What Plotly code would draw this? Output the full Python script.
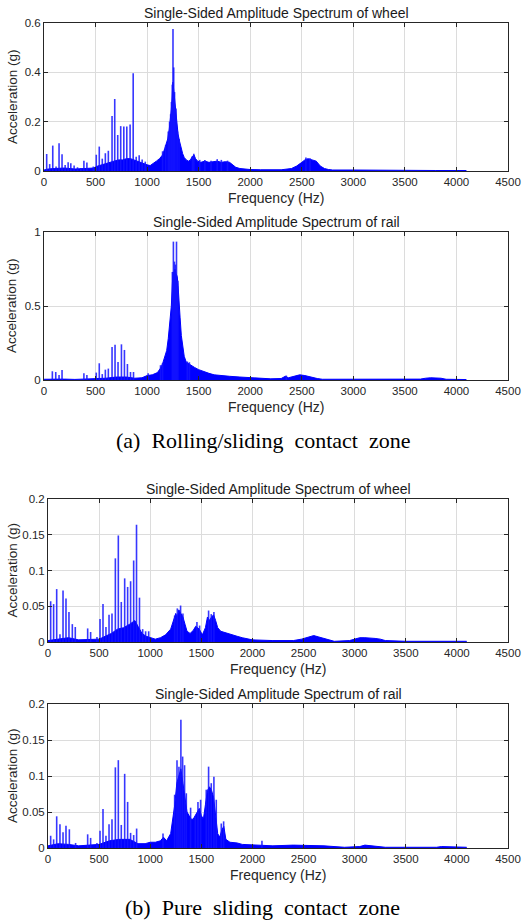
import plotly.graph_objects as go

# ---------------------------------------------------------------
# Single-sided amplitude spectra (acceleration, g) of wheel and rail
# (a) rolling/sliding contact zone, (b) pure sliding contact zone
# Each spectrum = dense broadband floor (env) + discrete harmonic lines (spk)
# ---------------------------------------------------------------

# (a) wheel
a_wheel_env_hz = [0, 40, 100, 200, 300, 400, 480, 520, 560, 600, 640, 680, 720, 760, 800, 840, 870,
                  900, 940, 980, 1000, 1030, 1060, 1090, 1120, 1150, 1170, 1185, 1200, 1215, 1225,
                  1235, 1243, 1250, 1258, 1265, 1272, 1280, 1290, 1300, 1315, 1330, 1345, 1360, 1380,
                  1400, 1420, 1440, 1455, 1470, 1490, 1520, 1560, 1600, 1640, 1680, 1720, 1760, 1800,
                  1830, 1860, 1900, 1950, 2000, 2100, 2200, 2300, 2400, 2450, 2500, 2530, 2560, 2600,
                  2640, 2680, 2720, 2760, 2800, 3000, 3200, 3500, 3800, 4096]
a_wheel_env_amp = [0.004, 0.008, 0.010, 0.012, 0.008, 0.010, 0.012, 0.020, 0.025, 0.030, 0.035, 0.040,
                   0.045, 0.045, 0.050, 0.050, 0.045, 0.040, 0.035, 0.030, 0.025, 0.022, 0.030, 0.040,
                   0.050, 0.065, 0.090, 0.110, 0.130, 0.170, 0.200, 0.250, 0.300, 0.360, 0.330, 0.300,
                   0.260, 0.220, 0.180, 0.150, 0.120, 0.090, 0.070, 0.055, 0.045, 0.040, 0.045, 0.060,
                   0.065, 0.050, 0.040, 0.035, 0.040, 0.035, 0.038, 0.040, 0.035, 0.038, 0.035, 0.025,
                   0.015, 0.010, 0.008, 0.006, 0.005, 0.004, 0.005, 0.010, 0.020, 0.035, 0.045, 0.050,
                   0.045, 0.040, 0.020, 0.010, 0.006, 0.004, 0.004, 0.003, 0.003, 0.002, 0.002]
a_wheel_spk_hz = [26, 55, 85, 117, 146, 175, 205, 234, 260, 292, 325, 357, 387, 416, 478, 507, 536, 565,
                  595, 624, 660, 686, 715, 744, 774, 803, 835, 865, 894, 923, 952, 982,
                  1150, 1180, 1205, 1218, 1228, 1236, 1244, 1251, 1258, 1266, 1280, 1295, 1310,
                  1440, 1453, 1510, 1560, 1620, 1680, 1720, 1780, 2540, 2580]
a_wheel_spk_amp = [0.069, 0.028, 0.103, 0.018, 0.112, 0.068, 0.024, 0.035, 0.031, 0.022, 0.015, 0.012,
                   0.042, 0.034, 0.018, 0.066, 0.099, 0.050, 0.072, 0.082, 0.223, 0.292, 0.146, 0.182,
                   0.180, 0.180, 0.189, 0.396, 0.058, 0.064, 0.047, 0.038,
                   0.080, 0.105, 0.160, 0.200, 0.230, 0.280, 0.350, 0.576, 0.420, 0.320, 0.253, 0.160,
                   0.130,
                   0.060, 0.070, 0.045, 0.045, 0.042, 0.048, 0.045, 0.042, 0.055, 0.052]

# (a) rail
a_rail_env_hz = [0, 100, 200, 300, 400, 500, 600, 700, 800, 880, 950, 1000, 1050, 1100, 1130, 1150,
                 1170, 1190, 1205, 1220, 1235, 1245, 1252, 1260, 1270, 1280, 1292, 1300, 1310, 1320,
                 1332, 1345, 1360, 1380, 1400, 1430, 1460, 1500, 1550, 1600, 1650, 1700, 1800, 1900,
                 2000, 2100, 2200, 2300, 2340, 2370, 2420, 2480, 2530, 2580, 2650, 2700, 3000, 3500,
                 3650, 3700, 3750, 3850, 3900, 4096]
a_rail_env_amp = [0.005, 0.008, 0.006, 0.004, 0.006, 0.008, 0.012, 0.020, 0.020, 0.012, 0.015, 0.030,
                  0.035, 0.050, 0.080, 0.110, 0.150, 0.200, 0.280, 0.380, 0.500, 0.650, 0.730, 0.720,
                  0.750, 0.720, 0.700, 0.640, 0.500, 0.420, 0.300, 0.220, 0.160, 0.120, 0.110, 0.100,
                  0.085, 0.070, 0.055, 0.045, 0.035, 0.030, 0.025, 0.020, 0.015, 0.010, 0.008, 0.010,
                  0.025, 0.015, 0.025, 0.035, 0.030, 0.020, 0.010, 0.005, 0.004, 0.004, 0.006, 0.012,
                  0.015, 0.012, 0.005, 0.003]
a_rail_spk_hz = [81, 114, 146, 175, 387, 416, 507, 536, 565, 595, 624, 660, 689, 718, 751, 780, 809,
                 839, 868, 1010, 1130, 1150, 1245, 1255, 1265, 1275, 1285, 1298, 1390, 1410, 2350]
a_rail_spk_amp = [0.059, 0.054, 0.034, 0.068, 0.045, 0.034, 0.050, 0.113, 0.040, 0.070, 0.077, 0.223,
                  0.239, 0.122, 0.241, 0.203, 0.108, 0.054, 0.054, 0.045, 0.100, 0.115, 0.730, 0.935,
                  0.800, 0.780, 0.935, 0.670, 0.125, 0.120, 0.030]

# (b) wheel
b_wheel_env_hz = [0, 100, 200, 300, 400, 500, 560, 620, 680, 740, 800, 850, 880, 920, 960, 1000, 1050,
                  1100, 1150, 1200, 1230, 1250, 1265, 1280, 1300, 1320, 1340, 1360, 1390, 1420, 1445,
                  1460, 1480, 1510, 1540, 1560, 1580, 1600, 1620, 1640, 1660, 1690, 1750, 1800, 1850,
                  1900, 1950, 2000, 2200, 2400, 2480, 2550, 2600, 2650, 2720, 2800, 2950, 3000, 3050,
                  3100, 3150, 3200, 3250, 3300, 3500, 4096]
b_wheel_env_amp = [0.002, 0.004, 0.006, 0.003, 0.003, 0.004, 0.008, 0.012, 0.018, 0.020, 0.025, 0.030,
                   0.022, 0.012, 0.008, 0.006, 0.004, 0.006, 0.010, 0.018, 0.030, 0.040, 0.035, 0.045,
                   0.040, 0.035, 0.025, 0.015, 0.012, 0.016, 0.022, 0.020, 0.018, 0.010, 0.020, 0.035,
                   0.030, 0.035, 0.038, 0.030, 0.020, 0.015, 0.012, 0.010, 0.008, 0.006, 0.004, 0.003,
                   0.002, 0.002, 0.004, 0.007, 0.009, 0.007, 0.004, 0.001, 0.002, 0.004, 0.006, 0.006,
                   0.006, 0.005, 0.004, 0.002, 0.001, 0.001]
b_wheel_spk_hz = [26, 55, 85, 117, 147, 176, 205, 238, 267, 388, 417, 479, 509, 538, 567, 597, 626,
                  659, 688, 717, 750, 779, 808, 838, 866, 895, 926, 955, 985,
                  1239, 1265, 1297, 1320, 1457, 1483, 1571, 1597, 1623]
b_wheel_spk_amp = [0.057, 0.053, 0.074, 0.011, 0.072, 0.061, 0.042, 0.025, 0.021, 0.019, 0.014, 0.007,
                   0.032, 0.053, 0.021, 0.038, 0.040, 0.117, 0.149, 0.056, 0.089, 0.077, 0.085, 0.114,
                   0.164, 0.062, 0.018, 0.015, 0.015,
                   0.037, 0.047, 0.051, 0.040, 0.028, 0.023, 0.044, 0.039, 0.042]

# (b) rail
b_rail_env_hz = [0, 100, 200, 300, 400, 500, 600, 700, 800, 880, 950, 1000, 1050, 1100, 1130, 1160,
                 1200, 1220, 1240, 1260, 1280, 1300, 1320, 1340, 1360, 1380, 1400, 1420, 1440, 1460,
                 1480, 1500, 1520, 1540, 1560, 1580, 1600, 1620, 1640, 1660, 1680, 1700, 1720, 1740,
                 1780, 1850, 1900, 2000, 2200, 2400, 2550, 2700, 2900, 3050, 3100, 3150, 3300, 3800,
                 3850, 4096]
b_rail_env_amp = [0.003, 0.006, 0.005, 0.003, 0.004, 0.005, 0.010, 0.012, 0.012, 0.006, 0.006, 0.008,
                  0.008, 0.010, 0.015, 0.010, 0.020, 0.040, 0.060, 0.090, 0.100, 0.110, 0.090, 0.070,
                  0.050, 0.045, 0.040, 0.040, 0.045, 0.050, 0.055, 0.045, 0.040, 0.060, 0.080, 0.085,
                  0.080, 0.070, 0.045, 0.020, 0.015, 0.025, 0.030, 0.012, 0.008, 0.007, 0.005, 0.004,
                  0.003, 0.004, 0.004, 0.003, 0.001, 0.002, 0.004, 0.003, 0.001, 0.001, 0.002, 0.001]
b_rail_spk_hz = [26, 55, 85, 117, 147, 176, 209, 270, 388, 417, 479, 509, 538, 567, 597, 626, 659, 688,
                 717, 750, 779, 808, 838, 867, 1125,
                 1239, 1262, 1281, 1300, 1317, 1336, 1353, 1395, 1441, 1467, 1493, 1548, 1571, 1597,
                 1623, 1646, 1695, 1718, 2093]
b_rail_spk_amp = [0.017, 0.012, 0.044, 0.033, 0.022, 0.031, 0.026, 0.007, 0.019, 0.014, 0.007, 0.024,
                  0.054, 0.017, 0.033, 0.040, 0.112, 0.122, 0.032, 0.103, 0.064, 0.021, 0.018, 0.027,
                  0.020,
                  0.074, 0.122, 0.113, 0.178, 0.127, 0.115, 0.076, 0.056, 0.044, 0.064, 0.067, 0.081,
                  0.113, 0.090, 0.099, 0.067, 0.034, 0.037, 0.010]

panels = [
    ("Single-Sided Amplitude Spectrum of wheel", a_wheel_env_hz, a_wheel_env_amp, a_wheel_spk_hz, a_wheel_spk_amp, 0.6, 0.2),
    ("Single-Sided Amplitude Spectrum of rail", a_rail_env_hz, a_rail_env_amp, a_rail_spk_hz, a_rail_spk_amp, 1.0, 0.5),
    ("Single-Sided Amplitude Spectrum of wheel", b_wheel_env_hz, b_wheel_env_amp, b_wheel_spk_hz, b_wheel_spk_amp, 0.2, 0.05),
    ("Single-Sided Amplitude Spectrum of rail", b_rail_env_hz, b_rail_env_amp, b_rail_spk_hz, b_rail_spk_amp, 0.2, 0.05),
]

# plot-area boxes in pixels: left, right, top, bottom
W, H = 522, 923
boxes = [(44, 508, 23, 171), (44, 508, 232, 380), (48, 508, 499, 642), (48, 508, 704, 848)]

BLUE = "#0000ff"
AXIS = "#262626"
FONT = "Liberation Sans, Arial, sans-serif"

fig = go.Figure()
annotations = []
layout_axes = {}

for i, ((title, ehz, eamp, shz, samp, ymax, ydt), (l, r, t, b)) in enumerate(zip(panels, boxes)):
    n = "" if i == 0 else str(i + 1)
    xa, ya = "x" + n, "y" + n

    # broadband floor
    fig.add_trace(go.Scatter(x=ehz, y=eamp, xaxis=xa, yaxis=ya, mode="lines",
                             line=dict(color=BLUE, width=1), fill="tozeroy",
                             fillcolor=BLUE, hoverinfo="skip", showlegend=False))
    # discrete spectral lines
    sx, sy = [], []
    for f, a in zip(shz, samp):
        sx += [f, f, None]
        sy += [0, a, None]
    fig.add_trace(go.Scatter(x=sx, y=sy, xaxis=xa, yaxis=ya, mode="lines",
                             line=dict(color="rgba(20,20,255,0.85)", width=1.6),
                             hoverinfo="skip", showlegend=False))

    xd = [l / W, r / W]
    yd = [1 - b / H, 1 - t / H]
    common = dict(showline=True, linecolor=AXIS, linewidth=1, mirror="ticks", ticks="inside",
                  ticklen=4, tickcolor=AXIS, showgrid=True, gridcolor="#dcdcdc", gridwidth=1,
                  zeroline=False, automargin=False,
                  tickfont=dict(family=FONT, size=11.5, color=AXIS))
    layout_axes["xaxis" + n] = dict(domain=xd, range=[0, 4500], dtick=500, tick0=0,
                                    anchor=ya, **common)
    layout_axes["yaxis" + n] = dict(domain=yd, range=[0, ymax], dtick=ydt, tick0=0,
                                    anchor=xa, **common)

    cx = (l + r) / 2
    annotations.append(dict(text=title, x=cx / W, y=1 - (t - 10) / H, xref="paper", yref="paper",
                            showarrow=False, xanchor="center", yanchor="middle",
                            font=dict(family=FONT, size=14, color="#1a1a1a")))
    annotations.append(dict(text="Frequency (Hz)", x=cx / W, y=1 - (b + 27) / H, xref="paper",
                            yref="paper", showarrow=False, xanchor="center", yanchor="middle",
                            font=dict(family=FONT, size=14, color=AXIS)))
    annotations.append(dict(text="Acceleration (g)", x=12 / W, y=1 - ((t + b) / 2) / H, xref="paper",
                            yref="paper", showarrow=False, xanchor="center", yanchor="middle",
                            textangle=-90, font=dict(family=FONT, size=13.5, color=AXIS)))

SERIF = "Liberation Serif, Times New Roman, serif"
nb = "\u00a0"
annotations.append(dict(text=f"(a){nb}{nb}Rolling/sliding{nb}{nb}contact{nb}{nb}zone", x=263 / W, y=1 - 440 / H,
                        xref="paper", yref="paper", showarrow=False, xanchor="center", yanchor="middle",
                        font=dict(family=SERIF, size=22, color="#000000")))
annotations.append(dict(text=f"(b){nb}{nb}Pure{nb}{nb}sliding{nb}{nb}contact{nb}{nb}zone", x=262 / W, y=1 - 907 / H,
                        xref="paper", yref="paper", showarrow=False, xanchor="center", yanchor="middle",
                        font=dict(family=SERIF, size=22, color="#000000")))

fig.update_layout(width=W, height=H, margin=dict(l=0, r=0, t=0, b=0),
                  paper_bgcolor="white", plot_bgcolor="white", template="none",
                  showlegend=False, annotations=annotations, **layout_axes)

fig.write_html("out.html")
